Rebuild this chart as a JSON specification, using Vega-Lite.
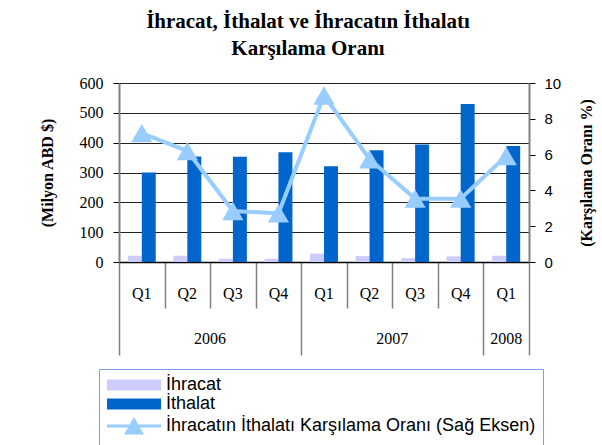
{
  "$schema": "https://vega.github.io/schema/vega-lite/v6.json",
  "width": 410,
  "height": 179,
  "autosize": {"type": "none"},
  "padding": {"left": 119, "top": 83, "right": 73, "bottom": 183},
  "background": "white",
  "config": {"view": {"stroke": null}, "font": "Liberation Serif"},
  "title": {
    "text": ["İhracat, İthalat ve İhracatın İthalatı", "Karşılama Oranı"],
    "font": "Liberation Serif",
    "fontSize": 21,
    "fontWeight": "bold",
    "lineHeight": 27,
    "anchor": "middle",
    "dx": -16,
    "offset": 16,
    "color": "#000"
  },
  "data": {
    "values": [
      {"cat": "2006-Q1", "ihracat": 21, "ithalat": 300, "oran": 7.2},
      {"cat": "2006-Q2", "ihracat": 21, "ithalat": 354, "oran": 6.2},
      {"cat": "2006-Q3", "ihracat": 11, "ithalat": 353, "oran": 2.85},
      {"cat": "2006-Q4", "ihracat": 11, "ithalat": 368, "oran": 2.72},
      {"cat": "2007-Q1", "ihracat": 28, "ithalat": 321, "oran": 9.3},
      {"cat": "2007-Q2", "ihracat": 20, "ithalat": 375, "oran": 5.74},
      {"cat": "2007-Q3", "ihracat": 13, "ithalat": 394, "oran": 3.54},
      {"cat": "2007-Q4", "ihracat": 19, "ithalat": 530, "oran": 3.54},
      {"cat": "2008-Q1", "ihracat": 21, "ithalat": 389, "oran": 5.92}
    ]
  },
  "layer": [
    {
      "transform": [{"fold": ["ihracat", "ithalat"], "as": ["series", "value"]}],
      "mark": {"type": "bar"},
      "encoding": {
        "x": {
          "field": "cat", "type": "nominal", "sort": null,
          "scale": {"paddingInner": 0, "paddingOuter": 0},
          "axis": {
            "title": null, "orient": "bottom", "labels": false, "grid": false,
            "tickBand": "extent",
            "tickSize": {"condition": {"test": "datum.extra || datum.value == '2006-Q4' || datum.value == '2007-Q4' || datum.value == '2008-Q1'", "value": 93}, "value": 46},
            "tickColor": "#808080", "tickWidth": 1.5,
            "domainColor": "#000", "domainWidth": 1.5
          }
        },
        "xOffset": {"field": "series", "type": "nominal", "scale": {"paddingInner": 0, "paddingOuter": 0.63}},
        "y": {
          "field": "value", "type": "quantitative",
          "scale": {"domain": [0, 600]},
          "axis": {
            "title": "(Milyon ABD $)", "values": [0, 100, 200, 300, 400, 500, 600],
            "grid": true, "gridColor": "#222", "gridWidth": 1,
            "domainColor": "#808080", "domainWidth": 2,
            "tickColor": "#000", "tickSize": 6,
            "labelFont": "Liberation Serif", "labelFontSize": 16, "labelColor": "#000", "labelPadding": 10,
            "titleFont": "Liberation Serif", "titleFontSize": 16, "titleFontWeight": "bold", "titleColor": "#000", "titlePadding": 24
          }
        },
        "color": {
          "field": "series", "type": "nominal",
          "scale": {"domain": ["ihracat", "ithalat", "oran"], "range": ["#CCCCFF", "#0066CC", "#99CCFF"]},
          "legend": {
            "orient": "none", "legendX": -20, "legendY": 286, "title": null, "direction": "vertical",
            "strokeColor": "#7F9CF5", "padding": 7, "symbolSize": 256, "labelOffset": 42, "rowPadding": 1,
            "labelFont": "Liberation Sans", "labelFontSize": 18, "labelColor": "#000", "labelLimit": 0,
            "labelExpr": "datum.value == 'ihracat' ? 'İhracat' : datum.value == 'ithalat' ? 'İthalat' : 'İhracatın İthalatı Karşılama Oranı (Sağ Eksen)'",
            "symbolType": {"expr": "datum.value == 'oran' ? 'M-1,0H5.75M2.375,-0.75L3.3,0.875L1.45,0.875Z' : 'M-1,-0.69H5.75V0.69H-1Z'"},
            "symbolStrokeColor": "#99CCFF",
            "symbolStrokeWidth": {"expr": "datum.value == 'oran' ? 3 : 0"},
            "symbolOpacity": 1
          }
        }
      }
    },
    {
      "mark": {"type": "line", "strokeWidth": 4},
      "encoding": {
        "x": {
          "field": "cat", "type": "nominal", "sort": null,
          "axis": {
            "title": null, "orient": "bottom", "domain": false, "ticks": false, "grid": false,
            "labelExpr": "split(datum.value, '-')[1]", "labelAngle": 0,
            "labelFont": "Liberation Serif", "labelFontSize": 16, "labelColor": "#000", "labelPadding": 23
          }
        },
        "y": {
          "field": "oran", "type": "quantitative",
          "scale": {"domain": [0, 10]},
          "axis": {
            "orient": "right", "title": "(Karşılama Oranı %)", "titleAngle": 270,
            "values": [0, 2, 4, 6, 8, 10], "grid": false,
            "domainColor": "#808080", "domainWidth": 2,
            "tickColor": "#000", "tickSize": 6,
            "labelFont": "Liberation Sans", "labelFontSize": 15, "labelColor": "#000", "labelPadding": 9,
            "titleFont": "Liberation Serif", "titleFontSize": 16, "titleFontWeight": "bold", "titleColor": "#000", "titlePadding": 34
          }
        },
        "color": {"datum": "oran", "type": "nominal"}
      }
    },
    {
      "mark": {"type": "point", "shape": "triangle-up", "filled": true, "size": 450, "opacity": 1},
      "encoding": {
        "x": {
          "field": "cat", "type": "nominal", "sort": null,
          "axis": {
            "title": null, "orient": "bottom", "domain": false, "ticks": false, "grid": false,
            "values": ["2006-Q2", "2007-Q2", "2008-Q1"],
            "labelExpr": "split(datum.value, '-')[0]", "labelAngle": 0,
            "labelOffset": {"condition": {"test": "datum.value == '2008-Q1'", "value": 0}, "value": 22.78},
            "labelFont": "Liberation Serif", "labelFontSize": 16, "labelColor": "#000", "labelPadding": 68
          }
        },
        "y": {"field": "oran", "type": "quantitative", "scale": {"domain": [0, 10]}, "axis": null},
        "color": {"datum": "oran", "type": "nominal"}
      }
    }
  ],
  "resolve": {"scale": {"y": "independent"}, "axis": {"x": "independent"}}
}
